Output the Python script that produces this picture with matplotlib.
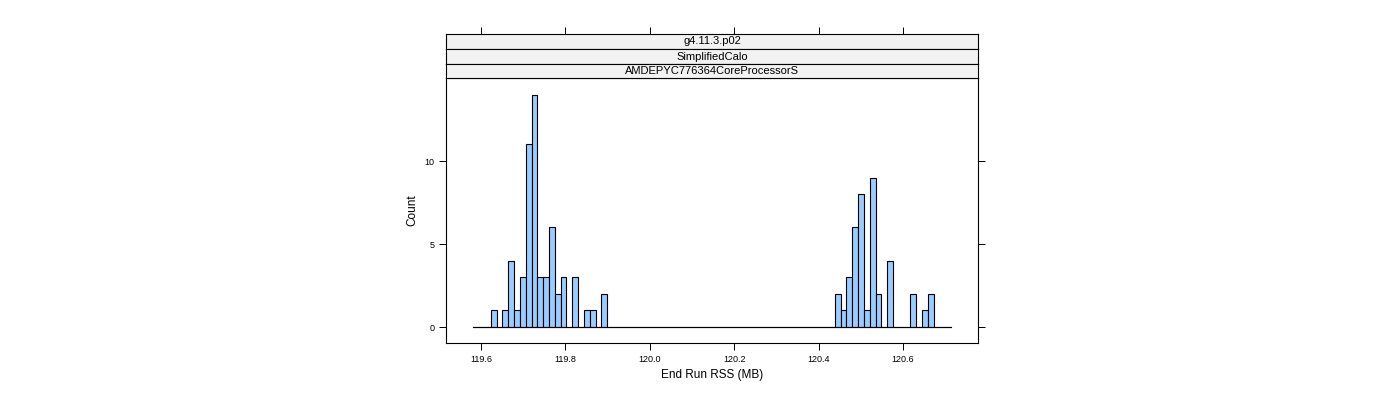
import matplotlib
matplotlib.use("Agg")
import matplotlib.pyplot as plt
import numpy as np

plt.rcParams["font.family"] = "Liberation Sans"

# histogram: 82 bins of equal width
bin_start = 119.5815
bin_width = 0.01382
left_counts = [1, 0, 1, 4, 1, 3, 11, 14, 3, 3, 6, 2, 3, 0, 3, 0, 1, 1, 0, 2]   # bins 3..22
right_counts = [2, 1, 3, 6, 8, 1, 9, 2, 0, 4, 0, 0, 0, 2, 0, 1, 2]             # bins 62..78
counts = np.zeros(82)
counts[3:3 + len(left_counts)] = left_counts
counts[62:62 + len(right_counts)] = right_counts
edges = bin_start + bin_width * np.arange(83)

strips = ["g4.11.3.p02", "SimplifiedCalo", "AMDEPYC776364CoreProcessorS"]
xticks = [119.6, 119.8, 120.0, 120.2, 120.4, 120.6]
yticks = [0, 5, 10]

W, H = 1400, 400
fig = plt.figure(figsize=(14, 4), dpi=100)
x0, x1 = 446, 978
ax = fig.add_axes([x0 / W, (H - 343) / H, (x1 - x0) / W, (343 - 78) / H])
ax.bar(edges[:-1], counts, width=bin_width, align="edge", color="#99CCFF",
       edgecolor="black", linewidth=0.8)
ax.plot([edges[0], edges[-1]], [0, 0], color="black", linewidth=0.8)
ax.set_xlim(119.517, 120.778)
ax.set_ylim(-0.96, 15.0)
ax.set_xticks(xticks)
ax.set_xticklabels([f"{v:.1f}" for v in xticks])
ax.set_yticks(yticks)
ax.tick_params(axis="both", labelsize=6.5, direction="out", length=5, width=0.7,
               right=True, top=False)
ax.set_xlabel("End Run RSS (MB)", fontsize=8.5)
ax.set_ylabel("Count", fontsize=8.5)
for s in ax.spines.values():
    s.set_linewidth(0.8)

# strips
tops = [34, 49, 64, 78]
for i, name in enumerate(strips):
    sa = fig.add_axes([x0 / W, (H - tops[i + 1]) / H, (x1 - x0) / W,
                       (tops[i + 1] - tops[i]) / H], sharex=ax)
    sa.set_facecolor("#F2F2F2")
    sa.set_yticks([])
    sa.text(0.5, 0.5, name, ha="center", va="center", fontsize=8, transform=sa.transAxes)
    sa.tick_params(axis="x", bottom=False, labelbottom=False,
                   top=(i == 0), labeltop=False, direction="out", length=5, width=0.7)
    for s in sa.spines.values():
        s.set_linewidth(0.8)

fig.savefig("out.png", dpi=100)
